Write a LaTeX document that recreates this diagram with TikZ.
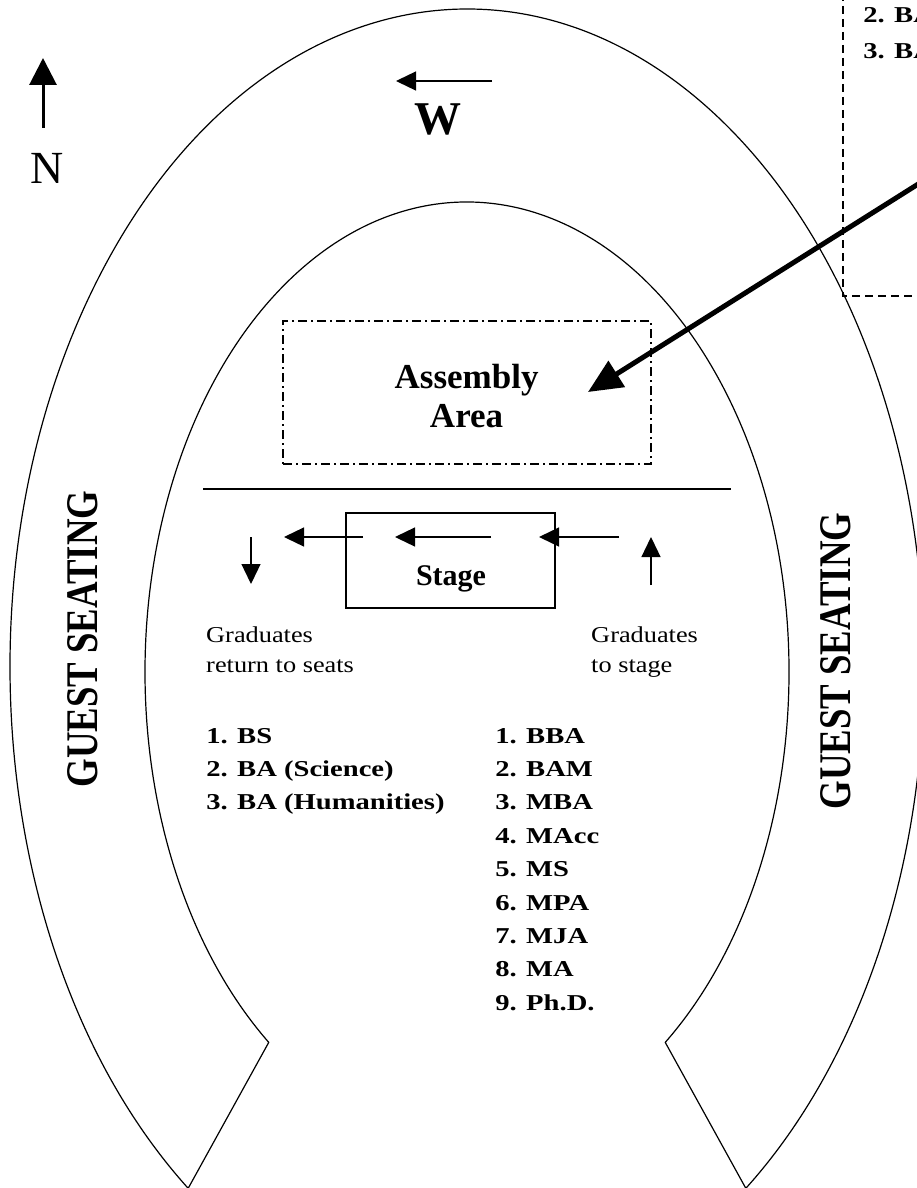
\documentclass[tikz,border=0pt]{standalone}
\usepackage{fontspec}
\setmainfont{Liberation Serif}
\usetikzlibrary{arrows.meta}

\tikzset{
  seating/.style={line width=1.2pt},
  flow/.style={line width=1.3pt,-{Triangle[length=20pt,width=19pt]}},
  degree/.style={font=\bfseries\fontsize{22.7}{27}\selectfont,xscale=1.26,inner sep=0pt,anchor=base west},
  note/.style={font=\fontsize{22.7}{30}\selectfont,xscale=1.16,inner sep=0pt,align=left,anchor=north west},
  guest/.style={font=\bfseries\fontsize{36.8}{40}\selectfont,rotate=90,yscale=1.23,inner sep=0pt},
  assemblybox/.style={draw,line width=1.2pt,dash pattern=on 9pt off 4pt on 2pt off 4pt,
    minimum width=368pt,minimum height=143pt,inner sep=0pt},
  stagebox/.style={draw,line width=1.5pt,minimum width=209pt,minimum height=95pt,inner sep=0pt},
}

\begin{document}
\begin{tikzpicture}[x=1pt,y=-1pt,line cap=butt,line join=miter]
\path[use as bounding box,clip] (0,0) rectangle (917,1188);

% horseshoe of guest seats
\draw[seating] ({467+457*cos(127.6)},{667+658*sin(127.6)})
  arc[start angle=127.6,end angle=412.4,x radius=457,y radius=658]
  -- ({467+322*cos(52)},{672+470*sin(52)})
  arc[start angle=52,end angle=-232,x radius=322,y radius=470] -- cycle;
\node[guest] (guestw) at (83,639) {GUEST SEATING};
\node[guest] (gueste) at (836,661) {GUEST SEATING};

% compass
\coordinate (ntail) at (43,128);
\coordinate (nhead) at (43,58);
\draw[line width=3pt,-{Triangle[length=27pt,width=27pt]}] (ntail) -- (nhead);
\node[font=\fontsize{46}{50}\selectfont,inner sep=0pt,anchor=base] (north) at (47,183) {N};
\coordinate (wtail) at (492,81);
\coordinate (whead) at (396,81);
\draw[flow] (wtail) -- (whead);
\node[font=\bfseries\fontsize{47}{50}\selectfont,inner sep=0pt,anchor=base] (west) at (438,135) {W};

% room at the top right
\draw[line width=1.3pt,dash pattern=on 8pt off 5pt] (843,-20) rectangle (950,296);
\node[degree] (roomtwo) at (863,23) {2. BA};
\node[degree] (roomthree) at (863,59) {3. BA};
\coordinate (walk) at (950,164);
\coordinate (walkend) at (588,392);
\draw[line width=5pt,-{Triangle[length=34pt,width=30pt]}] (walk) -- (walkend);

% assembly and stage
\node[assemblybox] (assembly) at (467,392.5) {};
\node[font=\bfseries\fontsize{35}{39}\selectfont,align=center,inner sep=0pt] (assemblyname) at (466.6,396.5) {Assembly\\Area};
\draw[line width=1.5pt] (203,489) -- (731,489);
\node[stagebox] (stage) at (450.5,560.5) {};
\node[font=\bfseries\fontsize{30}{34}\selectfont,inner sep=0pt,anchor=base] (stagename) at (451,585) {Stage};

\coordinate (up1) at (651,585);
\coordinate (up2) at (651,537);
\coordinate (a1) at (619,537);
\coordinate (a2) at (539,537);
\coordinate (b1) at (491,537);
\coordinate (b2) at (395,537);
\coordinate (c1) at (363,537);
\coordinate (c2) at (284,537);
\coordinate (dn1) at (251,537);
\coordinate (dn2) at (251,584);
\draw[flow] (up1) -- (up2);
\draw[flow] (a1) -- (a2);
\draw[flow] (b1) -- (b2);
\draw[flow] (c1) -- (c2);
\draw[flow] (dn1) -- (dn2);

\node[note] (leave) at (206,626.5) {Graduates\\return to seats};
\node[note] (enter) at (591,626.5) {Graduates\\to stage};

% order of the degrees
\foreach \deg [count=\i] in {BS,{BA (Science)},{BA (Humanities)}}
  \node[degree] (left\i) at (206,{743+33.4*(\i-1)}) {\i. \deg};
\foreach \deg [count=\i] in {BBA,BAM,MBA,MAcc,MS,MPA,MJA,MA,Ph.D.}
  \node[degree] (right\i) at (495,{743+33.4*(\i-1)}) {\i. \deg};
\end{tikzpicture}
\end{document}
